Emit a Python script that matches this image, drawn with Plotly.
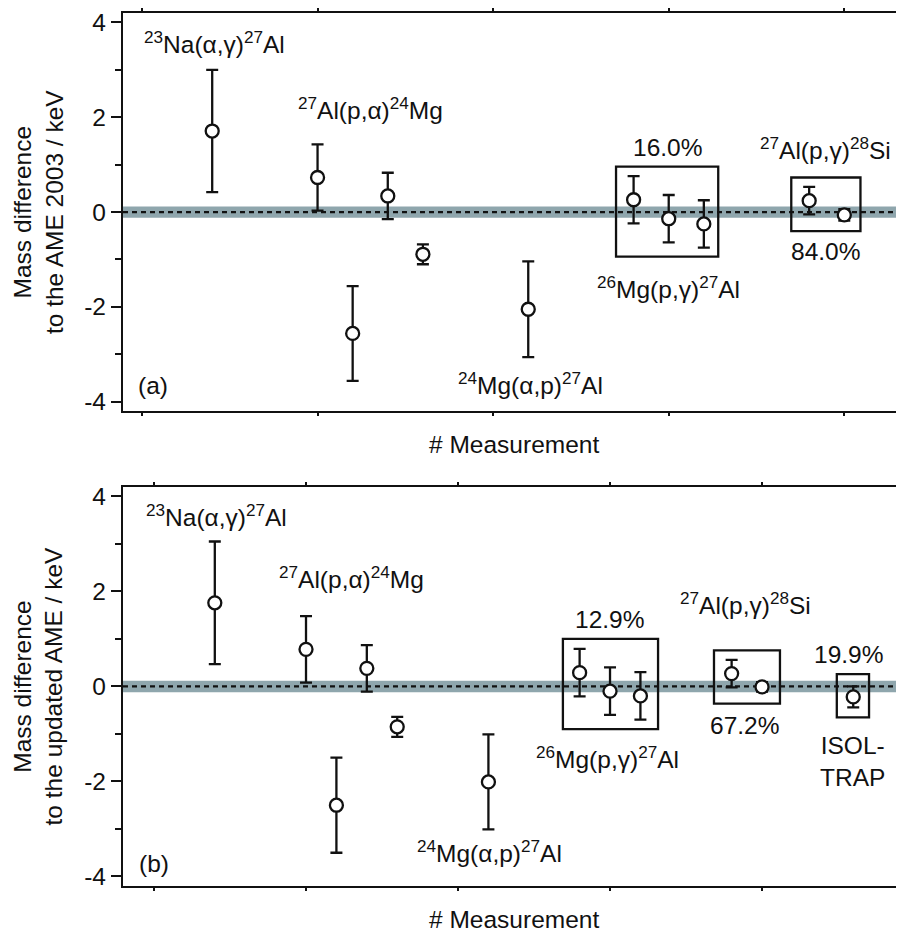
import plotly.graph_objects as go
from plotly.subplots import make_subplots

# panel (a): mass difference to AME 2003
meas_a = [2, 5, 6, 7, 8, 11, 14, 15, 16, 19, 20]
diff_a = [1.71, 0.73, -2.56, 0.34, -0.89, -2.05, 0.26, -0.14, -0.25, 0.24, -0.06]
err_a = [1.29, 0.70, 1.00, 0.49, 0.21, 1.01, 0.50, 0.50, 0.50, 0.29, 0.12]

# panel (b): mass difference to the updated AME
meas_b = [2, 5, 6, 7, 8, 11, 14, 15, 16, 19, 20, 23]
diff_b = [1.76, 0.78, -2.50, 0.38, -0.85, -2.01, 0.29, -0.10, -0.20, 0.27, -0.01, -0.22]
err_b = [1.29, 0.70, 1.00, 0.49, 0.21, 1.00, 0.50, 0.50, 0.50, 0.29, 0.10, 0.22]

band_halfwidth = 0.12

# group boxes (x0, x1, y0, y1)
boxes_a = [(13.5, 16.41, -0.94, 0.96), (18.49, 20.46, -0.40, 0.73)]
boxes_b = [(13.45, 16.58, -0.90, 1.00), (18.42, 20.59, -0.36, 0.76), (22.46, 23.52, -0.65, 0.26)]

# labels: (text, x, y, xanchor)
labels_a = [
    ("<sup>23</sup>Na(α,γ)<sup>27</sup>Al", 0.0, 3.58, "left"),
    ("<sup>27</sup>Al(p,α)<sup>24</sup>Mg", 6.52, 2.18, "center"),
    ("<sup>24</sup>Mg(α,p)<sup>27</sup>Al", 11.05, -3.61, "center"),
    ("16.0%", 14.96, 1.36, "center"),
    ("<sup>26</sup>Mg(p,γ)<sup>27</sup>Al", 14.99, -1.60, "center"),
    ("<sup>27</sup>Al(p,γ)<sup>28</sup>Si", 19.46, 1.34, "center"),
    ("84.0%", 19.46, -0.84, "center"),
    ("(a)", -0.17, -3.65, "left"),
]
labels_b = [
    ("<sup>23</sup>Na(α,γ)<sup>27</sup>Al", -0.33, 3.60, "left"),
    ("<sup>27</sup>Al(p,α)<sup>24</sup>Mg", 6.51, 2.30, "center"),
    ("<sup>24</sup>Mg(α,p)<sup>27</sup>Al", 11.02, -3.48, "center"),
    ("12.9%", 14.97, 1.40, "center"),
    ("<sup>26</sup>Mg(p,γ)<sup>27</sup>Al", 14.93, -1.49, "center"),
    ("<sup>27</sup>Al(p,γ)<sup>28</sup>Si", 19.47, 1.74, "center"),
    ("67.2%", 19.41, -0.82, "center"),
    ("19.9%", 22.86, 0.67, "center"),
    ("ISOL-<br>TRAP", 22.96, -1.59, "center"),
    ("(b)", -0.56, -3.73, "left"),
]

ink = "#111111"
band = "#8fa6ad"
font = "Liberation Sans, Arial, sans-serif"
fs = 24.5

fig = make_subplots(rows=2, cols=1, vertical_spacing=0.0865)

for row, xs, ys, es in [(1, meas_a, diff_a, err_a), (2, meas_b, diff_b, err_b)]:
    fig.add_trace(go.Scatter(
        x=xs, y=ys, mode="markers", showlegend=False,
        error_y=dict(type="data", array=es, color=ink, thickness=2.3, width=6),
        marker=dict(symbol="circle", size=13, color="white", line=dict(color=ink, width=2.3)),
    ), row=row, col=1)

fig.update_xaxes(range=[-0.54, 21.7], row=1, col=1)
fig.update_xaxes(range=[-1.02, 24.67], row=2, col=1)
fig.update_xaxes(
    showline=True, linewidth=2.3, linecolor=ink, mirror="allticks",
    ticks="outside", ticklen=3, tickwidth=1.5, tickcolor=ink,
    tickvals=[0, 5, 10, 15, 20], showticklabels=False,
    showgrid=False, zeroline=False,
)
fig.update_yaxes(
    range=[-4.2, 4.2], showline=True, linewidth=2.3, linecolor=ink,
    ticks="outside", ticklen=10, tickwidth=2, tickcolor=ink,
    tickvals=[-4, -2, 0, 2, 4], ticktext=["-4", "-2", "0", "2", "4"],
    minor=dict(tickvals=[-3, -1, 1, 3], ticks="outside", ticklen=6, tickwidth=2, tickcolor=ink),
    tickfont=dict(size=fs, color=ink, family=font),
    showgrid=False, zeroline=False,
)

for xr, yr, boxes in [("x", "y", boxes_a), ("x2", "y2", boxes_b)]:
    fig.add_shape(type="rect", xref=f"{xr} domain", yref=yr, x0=0, x1=1,
                  y0=-band_halfwidth, y1=band_halfwidth,
                  fillcolor=band, line=dict(width=0), layer="below")
    fig.add_shape(type="line", xref=f"{xr} domain", yref=yr, x0=0, x1=1, y0=0, y1=0,
                  line=dict(color=ink, width=2.3, dash="5px,4px"), layer="below")
    for x0, x1, y0, y1 in boxes:
        fig.add_shape(type="rect", xref=xr, yref=yr, x0=x0, x1=x1, y0=y0, y1=y1,
                      line=dict(color=ink, width=2.3), layer="above")

for xr, yr, labels in [("x", "y", labels_a), ("x2", "y2", labels_b)]:
    for text, x, y, anchor in labels:
        fig.add_annotation(text=text, x=x, y=y, xref=xr, yref=yr, xanchor=anchor,
                           yanchor="middle", showarrow=False,
                           font=dict(size=fs, color=ink, family=font))

titles = ["Mass difference<br>to the AME 2003 / keV", "Mass difference<br>to the updated AME / keV"]
for (xr, yr), t in zip([("x", "y"), ("x2", "y2")], titles):
    fig.add_annotation(text=t, x=0, y=0.5, xref=f"{xr} domain", yref=f"{yr} domain",
                       xanchor="center", yanchor="middle", xshift=-85, textangle=-90,
                       showarrow=False, font=dict(size=fs, color=ink, family=font))
    fig.add_annotation(text="# Measurement", x=0.5, y=0, xref=f"{xr} domain", yref=f"{yr} domain",
                       xanchor="center", yanchor="middle", yshift=-33,
                       showarrow=False, font=dict(size=fs, color=ink, family=font))

# the page body adds an 8px offset, so the figure is 8px smaller and shifted back
fig.update_layout(
    width=896, height=924,
    margin=dict(l=115, r=0, t=1, b=46),
    plot_bgcolor="white", paper_bgcolor="white",
    font=dict(family=font, size=fs, color=ink),
)
fig.update_layout(yaxis=dict(domain=[0.5439, 1.0]), yaxis2=dict(domain=[0.0, 0.4572]))

fig.write_html("out.html")
